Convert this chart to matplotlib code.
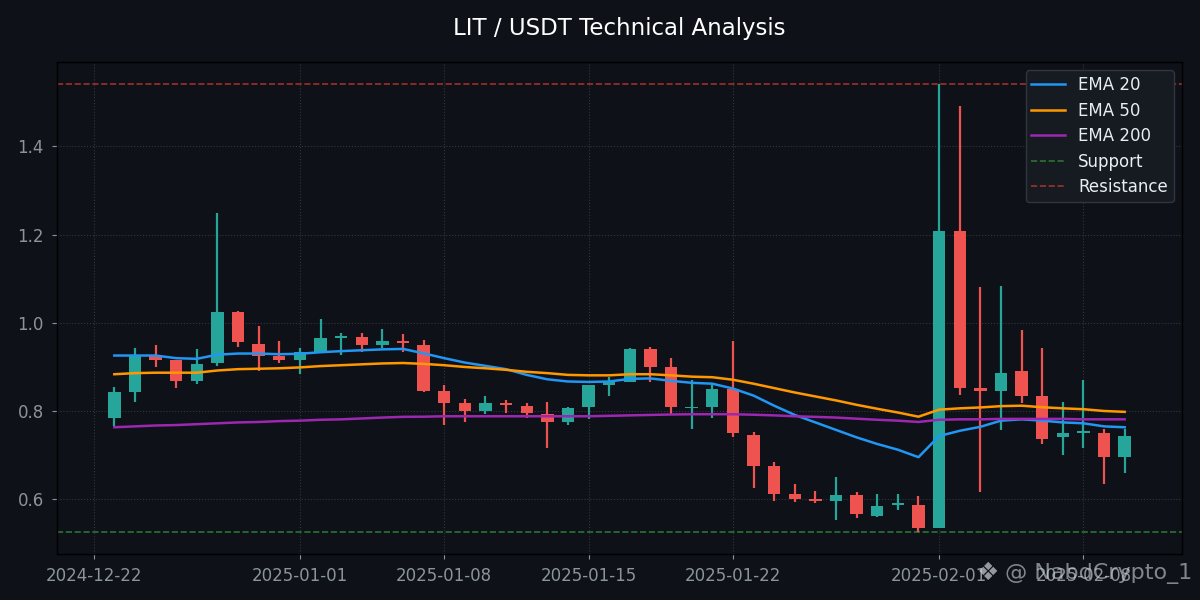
import matplotlib
matplotlib.use("Agg")
import matplotlib.pyplot as plt
import matplotlib.dates as mdates
import numpy as np
import pandas as pd

dates = pd.date_range("2024-12-23", "2025-02-10", freq="D")

opens = [0.783, 0.841, 0.927, 0.914, 0.868, 0.907, 1.023, 0.952, 0.925, 0.914,
         0.934, 0.965, 0.968, 0.950, 0.957, 0.950, 0.845, 0.816, 0.800, 0.816,
         0.811, 0.793, 0.775, 0.807, 0.859, 0.864, 0.939, 0.898, 0.805, 0.809,
         0.848, 0.745, 0.673, 0.611, 0.598, 0.594, 0.607, 0.561, 0.585, 0.586,
         0.534, 1.207, 0.852, 0.845, 0.889, 0.834, 0.739, 0.749, 0.750, 0.695]
highs = [0.854, 0.941, 0.950, 0.914, 0.939, 1.250, 1.027, 0.991, 0.957, 0.941,
         1.007, 0.977, 0.977, 0.986, 0.975, 0.961, 0.859, 0.827, 0.832, 0.825,
         0.816, 0.820, 0.809, 0.859, 0.877, 0.941, 0.945, 0.920, 0.870, 0.861,
         0.959, 0.752, 0.682, 0.634, 0.618, 0.650, 0.616, 0.611, 0.611, 0.605,
         1.541, 1.491, 1.080, 1.082, 0.982, 0.943, 0.820, 0.870, 0.759, 0.757]
lows = [0.764, 0.820, 0.898, 0.852, 0.861, 0.902, 0.945, 0.889, 0.907, 0.884,
        0.934, 0.927, 0.932, 0.941, 0.934, 0.843, 0.768, 0.775, 0.791, 0.795,
        0.782, 0.716, 0.766, 0.780, 0.834, 0.864, 0.864, 0.793, 0.759, 0.784,
        0.741, 0.625, 0.595, 0.593, 0.591, 0.552, 0.555, 0.559, 0.575, 0.525,
        0.534, 0.836, 0.616, 0.755, 0.816, 0.725, 0.700, 0.714, 0.632, 0.657]
closes = [0.841, 0.925, 0.914, 0.868, 0.905, 1.023, 0.955, 0.925, 0.914, 0.932,
          0.964, 0.968, 0.950, 0.959, 0.954, 0.845, 0.818, 0.800, 0.818, 0.812,
          0.795, 0.775, 0.805, 0.857, 0.864, 0.939, 0.898, 0.807, 0.809, 0.848,
          0.748, 0.673, 0.611, 0.598, 0.594, 0.607, 0.564, 0.584, 0.587, 0.534,
          1.207, 0.852, 0.845, 0.886, 0.834, 0.736, 0.748, 0.750, 0.695, 0.743]

ema20 = [0.925, 0.925, 0.925, 0.919, 0.9175, 0.927, 0.9295, 0.9295, 0.928, 0.929,
         0.9325, 0.935, 0.937, 0.939, 0.940, 0.930, 0.919, 0.909, 0.9015, 0.894,
         0.881, 0.871, 0.866, 0.865, 0.866, 0.872, 0.873, 0.8675, 0.863, 0.861,
         0.850, 0.834, 0.811, 0.790, 0.773, 0.756, 0.739, 0.724, 0.711, 0.694,
         0.742, 0.754, 0.763, 0.777, 0.780, 0.777, 0.773, 0.771, 0.764, 0.762]
ema50 = [0.8825, 0.885, 0.886, 0.886, 0.886, 0.891, 0.894, 0.895, 0.896, 0.898,
         0.901, 0.903, 0.905, 0.907, 0.908, 0.906, 0.903, 0.899, 0.896, 0.8925,
         0.888, 0.885, 0.881, 0.880, 0.880, 0.8825, 0.8825, 0.880, 0.877, 0.8757,
         0.870, 0.861, 0.851, 0.841, 0.832, 0.823, 0.813, 0.804, 0.7955, 0.786,
         0.802, 0.805, 0.807, 0.810, 0.811, 0.8075, 0.805, 0.803, 0.799, 0.797]
ema200 = [0.762, 0.764, 0.766, 0.767, 0.769, 0.771, 0.773, 0.774, 0.776, 0.777,
          0.779, 0.780, 0.782, 0.784, 0.7857, 0.786, 0.787, 0.787, 0.787, 0.787,
          0.787, 0.787, 0.787, 0.787, 0.788, 0.789, 0.790, 0.791, 0.7916, 0.7916,
          0.7916, 0.7905, 0.789, 0.787, 0.7856, 0.784, 0.7815, 0.779, 0.777, 0.774,
          0.779, 0.780, 0.780, 0.781, 0.781, 0.781, 0.781, 0.780, 0.780, 0.780]

support = 0.525
resistance = 1.541

BG = "#0e1117"
UP = "#26a69a"
DOWN = "#ef5350"
TXT = "#8b949e"

fig = plt.figure(figsize=(12, 6), dpi=100, facecolor=BG)
ax = fig.add_axes([57 / 1200, 1 - 554 / 600, (1182 - 57) / 1200, (554 - 62) / 600])
ax.set_facecolor(BG)

x = mdates.date2num(dates)
o = np.array(opens); h = np.array(highs); l = np.array(lows); c = np.array(closes)
up = c >= o
cols = np.where(up, UP, DOWN)
body_w = 0.6
bottoms = np.minimum(o, c)
heights = np.maximum(np.abs(c - o), 0.004)

ax.vlines(x, l, h, colors=cols, linewidth=1.6, zorder=2)
ax.bar(x, heights, bottom=bottoms, width=body_w, color=cols, edgecolor=cols,
       linewidth=0, zorder=3)

ax.plot(x, ema20, color="#2196f3", lw=1.8, label="EMA 20", zorder=4)
ax.plot(x, ema50, color="#ff9800", lw=1.8, label="EMA 50", zorder=4)
ax.plot(x, ema200, color="#9c27b0", lw=1.8, label="EMA 200", zorder=4)
ax.axhline(support, color="#2e7d32", ls="--", lw=1.2, alpha=0.9, label="Support", zorder=1)
ax.axhline(resistance, color="#b3322c", ls="--", lw=1.2, alpha=0.9, label="Resistance", zorder=1)

ax.set_xlim(x[0] - 2.78, x[-1] + 2.78)
ax.set_ylim(0.474, 1.592)

ax.xaxis.set_major_locator(mdates.DayLocator(bymonthday=[1, 8, 15, 22]))
ax.xaxis.set_major_formatter(mdates.DateFormatter("%Y-%m-%d"))
ax.set_yticks([0.6, 0.8, 1.0, 1.2, 1.4])
ax.tick_params(colors=TXT, labelsize=12, length=3.5, pad=6)
ax.grid(True, color="#3a404a", ls=":", lw=0.8, alpha=0.8)
ax.set_axisbelow(True)
for s in ax.spines.values():
    s.set_color("#000000")
    s.set_linewidth(1.0)

fig.text(619.5 / 1200, 1 - 28 / 600, "LIT / USDT Technical Analysis", color="white",
         fontsize=16.5, ha="center", va="center")

leg = ax.legend(loc="upper right", fontsize=12, facecolor="#161b22",
                edgecolor="#30363d", labelcolor="#e6edf3", framealpha=1.0,
                labelspacing=0.45, borderpad=0.35)

fig.text(988 / 1200, 1 - 573 / 600, "\u2756", color="#d0d4da",
         alpha=0.7, fontsize=18, ha="center", va="center")
fig.text(1005 / 1200, 1 - 573 / 600, "@ NabdCrypto_1", color="#d0d4da",
         alpha=0.6, fontsize=16, ha="left", va="center")

fig.savefig("out.png", dpi=100, facecolor=BG)
